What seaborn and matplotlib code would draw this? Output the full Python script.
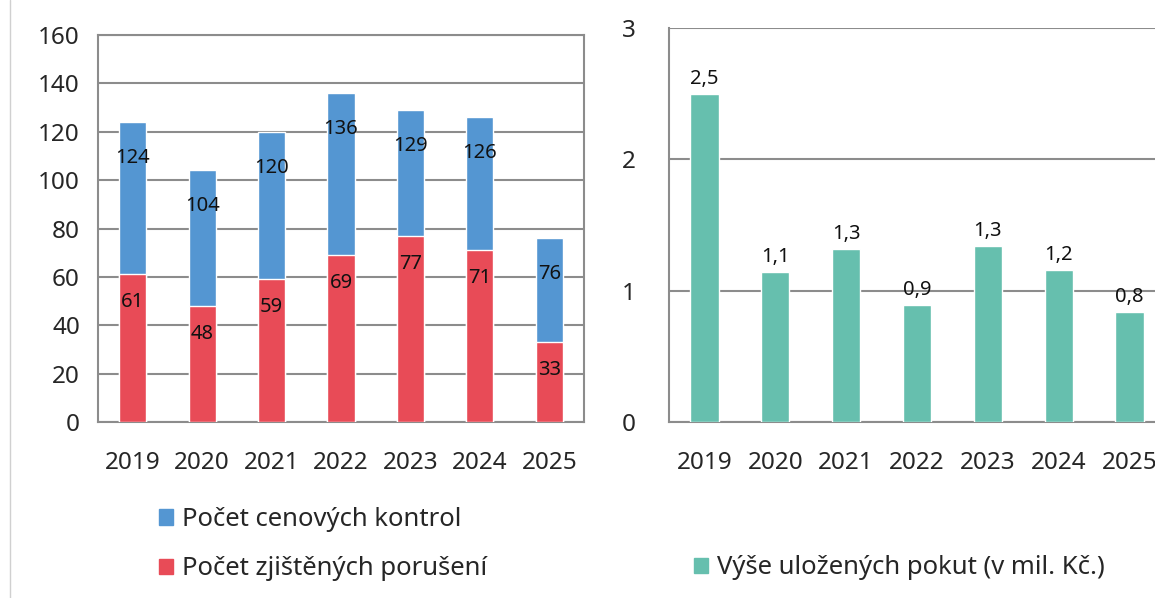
import matplotlib
matplotlib.use("Agg")
import matplotlib.pyplot as plt
import seaborn as sns
import pandas as pd
from matplotlib.patches import Patch
from matplotlib.lines import Line2D

# data
roky = ['2019', '2020', '2021', '2022', '2023', '2024', '2025']
kontroly = [124, 104, 120, 136, 129, 126, 76]
poruseni = [61, 48, 59, 69, 77, 71, 33]
pokuty = [2.5, 1.14, 1.32, 0.89, 1.34, 1.16, 0.84]

modra = '#5496d2'
cervena = '#e84b57'
zelena = '#66bfae'
seda = '#8c8c8c'
text_c = '#262626'

sns.set_style('white')
plt.rcParams['font.family'] = ['Noto Sans', 'DejaVu Sans']

df = pd.DataFrame({'rok': roky, 'kontroly': kontroly, 'poruseni': poruseni, 'pokuty': pokuty})

W, H = 1155, 598
fig = plt.figure(figsize=(W / 100, H / 100), dpi=100)

def px_axes(x0, y0, x1, y1):
    return fig.add_axes([x0 / W, 1 - y1 / H, (x1 - x0) / W, (y1 - y0) / H])

# left panel
ax1 = px_axes(98, 35, 584, 422)
sns.barplot(data=df, x='rok', y='kontroly', color=modra, width=0.39, saturation=1, ax=ax1, zorder=3)
sns.barplot(data=df, x='rok', y='poruseni', color=cervena, width=0.39, saturation=1, ax=ax1, zorder=3)
ax1.set_ylim(0, 160)
ax1.set_yticks(range(0, 161, 20))
ax1.yaxis.grid(True, color=seda, lw=1.5, zorder=0)
ax1.set_axisbelow(True)
for s in ax1.spines.values():
    s.set_color(seda)
    s.set_linewidth(1.5)
ax1.set_xlabel('')
ax1.set_ylabel('')
ax1.tick_params(axis='both', length=0, labelsize=17.5, colors=text_c)
ax1.tick_params(axis='y', pad=13)
ax1.tick_params(axis='x', pad=21)

n = len(roky)
for i, p in enumerate(ax1.patches):
    h = p.get_height()
    xc = p.get_x() + p.get_width() / 2
    off = -36 if i < n else -28
    ax1.annotate(f'{int(round(h))}', xy=(xc, h), xytext=(0, off), textcoords='offset pixels',
                 ha='center', va='center', fontsize=14.5, color='#111111', zorder=5)

fig.legend(handles=[Patch(color=modra, label='Počet cenových kontrol'),
                    Patch(color=cervena, label='Počet zjištěných porušení')],
           loc='upper left', bbox_to_anchor=(159 / W, 1 - 507 / H), bbox_transform=fig.transFigure,
           frameon=False, fontsize=18.5, handlelength=0.55, handleheight=0.55, handletextpad=0.35,
           labelspacing=0.95, borderpad=0, borderaxespad=0, labelcolor=text_c)

# right panel
ax2 = px_axes(669, 28, 1165, 422)
sns.barplot(data=df, x='rok', y='pokuty', color=zelena, width=0.4, saturation=1, ax=ax2, zorder=3)
ax2.set_ylim(0, 3)
ax2.set_yticks([0, 1, 2, 3])
ax2.yaxis.grid(True, color=seda, lw=1.5, zorder=0)
ax2.set_axisbelow(True)
for k in ['top', 'right']:
    ax2.spines[k].set_visible(False)
for k in ['left', 'bottom']:
    ax2.spines[k].set_color(seda)
    ax2.spines[k].set_linewidth(1.5)
ax2.set_xlabel('')
ax2.set_ylabel('')
ax2.tick_params(axis='both', length=0, labelsize=17.5, colors=text_c)
ax2.tick_params(axis='y', pad=24)
ax2.tick_params(axis='x', pad=21)
for p in ax2.patches:
    h = p.get_height()
    xc = p.get_x() + p.get_width() / 2
    ax2.annotate(f'{h:.1f}'.replace('.', ','), xy=(xc, h), xytext=(0, 15), textcoords='offset pixels',
                 ha='center', va='center', fontsize=14.5, color='#111111', zorder=5)

fig.legend(handles=[Patch(color=zelena, label='Výše uložených pokut (v mil. Kč.)')],
           loc='center left', bbox_to_anchor=(694 / W, 1 - 568 / H), bbox_transform=fig.transFigure,
           frameon=False, fontsize=18.5, handlelength=0.55, handleheight=0.55, handletextpad=0.35,
           borderpad=0, borderaxespad=0, labelcolor=text_c)

# chart area border on the left
fig.add_artist(Line2D([10 / W, 10 / W], [0, 1], color='#d0d0d0', lw=1, transform=fig.transFigure))

fig.savefig('out.png', dpi=100)
